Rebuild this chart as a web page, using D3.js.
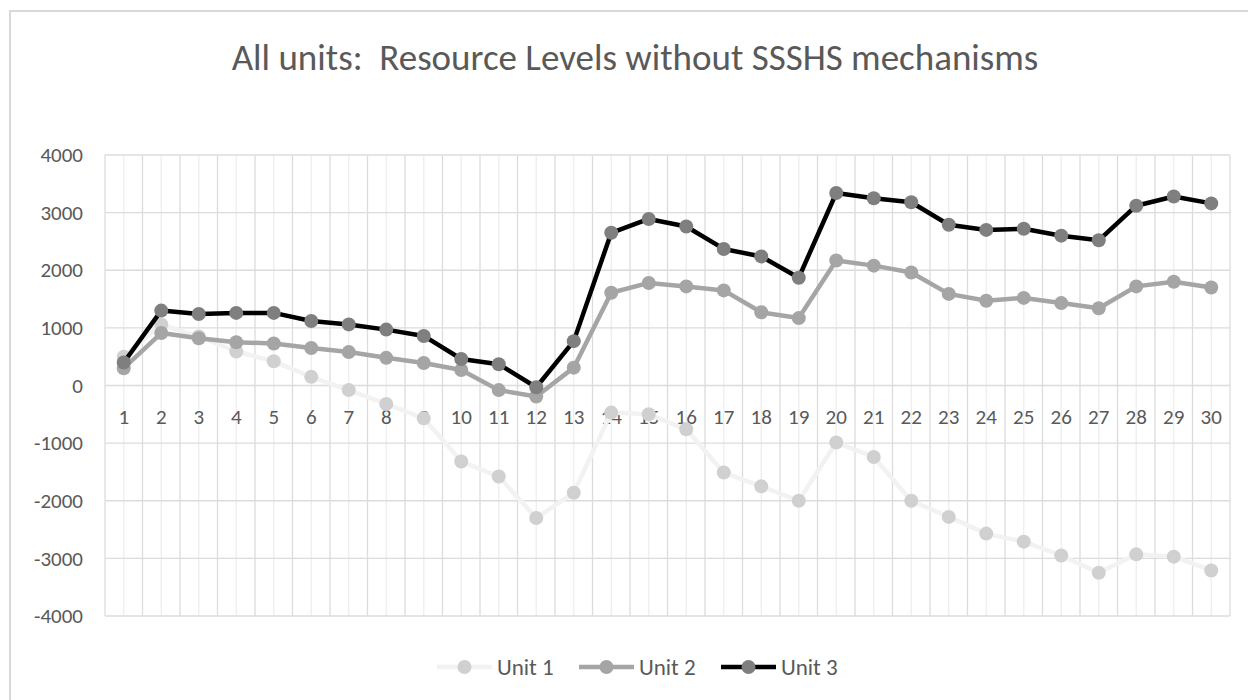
<!DOCTYPE html>
<html>
<head>
<meta charset="utf-8">
<script src="https://cdn.jsdelivr.net/npm/d3@7/dist/d3.min.js"></script>
<style>
  html, body { margin: 0; padding: 0; background: #fff; }
  svg { display: block; font-family: Calibri, Carlito, Lato, "Open Sans", sans-serif; }
  svg text { font-family: Calibri, Carlito, Lato, "Open Sans", sans-serif; }
</style>
</head>
<body>
<div id="chart"></div>
<script>
const title = 'All units:  Resource Levels without SSSHS mechanisms';
const periods = d3.range(1, 31);
const yTicks = [-4000, -3000, -2000, -1000, 0, 1000, 2000, 3000, 4000];

const unit1 = [500, 1060, 850, 590, 420, 150, -80, -320, -570, -1320, -1580, -2300, -1860, -470, -500, -760,
  -1510, -1750, -2000, -990, -1240, -2000, -2280, -2570, -2710, -2950, -3250, -2930, -2970, -3210];
const unit2 = [300, 910, 820, 750, 730, 650, 580, 480, 390, 270, -80, -190, 310, 1610, 1780, 1720,
  1650, 1270, 1170, 2170, 2080, 1960, 1590, 1470, 1520, 1430, 1340, 1720, 1800, 1700];
const unit3 = [400, 1300, 1240, 1260, 1260, 1120, 1060, 970, 860, 460, 370, -30, 770, 2650, 2890, 2760,
  2370, 2240, 1870, 3340, 3250, 3180, 2790, 2700, 2720, 2600, 2520, 3120, 3280, 3160];

const series = [
  { name: 'Unit 1', values: unit1, line: '#f2f2f2', marker: '#d0d0d0' },
  { name: 'Unit 2', values: unit2, line: '#a5a5a5', marker: '#a5a5a5' },
  { name: 'Unit 3', values: unit3, line: '#000000', marker: '#7f7f7f' }
];

const W = 1248, H = 700;
const plot = { left: 105, right: 1230, top: 155, bottom: 616 };
const textColor = '#595959';

const svg = d3.select('#chart').append('svg')
  .attr('width', W)
  .attr('height', H);

// chart frame (runs off the bottom/right of the picture)
svg.append('rect')
  .attr('x', 10).attr('y', 11)
  .attr('width', W + 20).attr('height', H + 20)
  .attr('fill', '#fff')
  .attr('stroke', '#d9d9d9')
  .attr('stroke-width', 2);

const x = d3.scaleBand()
  .domain(periods)
  .range([plot.left, plot.right]);

const y = d3.scaleLinear()
  .domain([-4000, 4000])
  .range([plot.bottom, plot.top]);

// minor vertical grid at category centres
svg.append('g')
  .selectAll('line')
  .data(periods)
  .join('line')
  .attr('x1', d => x(d) + x.bandwidth() / 2)
  .attr('x2', d => x(d) + x.bandwidth() / 2)
  .attr('y1', plot.top)
  .attr('y2', plot.bottom)
  .attr('stroke', '#eeeeee')
  .attr('stroke-width', 1.3);

// major vertical grid at category boundaries
svg.append('g')
  .selectAll('line')
  .data(periods.concat([31]))
  .join('line')
  .attr('x1', d => d === 31 ? plot.right : x(d))
  .attr('x2', d => d === 31 ? plot.right : x(d))
  .attr('y1', plot.top)
  .attr('y2', plot.bottom)
  .attr('stroke', '#dcdcdc')
  .attr('stroke-width', 1.3);

// horizontal grid
svg.append('g')
  .selectAll('line')
  .data(yTicks)
  .join('line')
  .attr('x1', plot.left)
  .attr('x2', plot.right)
  .attr('y1', d => y(d))
  .attr('y2', d => y(d))
  .attr('stroke', '#dcdcdc')
  .attr('stroke-width', 1.3);

// y axis labels
const yAxis = svg.append('g')
  .attr('transform', `translate(${plot.left - 22},0)`)
  .call(d3.axisLeft(y).tickValues(yTicks).tickSize(0).tickPadding(0).tickFormat(d => String(d)));
yAxis.attr('font-family', null).attr('font-size', null);
yAxis.select('.domain').remove();
yAxis.selectAll('text')
  .attr('fill', textColor)
  .style('font-size', '21px');

// x axis labels, sitting just under the zero line
const xAxis = svg.append('g')
  .attr('transform', `translate(0,${y(0)})`)
  .call(d3.axisBottom(x).tickSize(0).tickPadding(23));
xAxis.attr('font-family', null).attr('font-size', null);
xAxis.select('.domain').remove();
xAxis.selectAll('text')
  .attr('fill', textColor)
  .attr('dy', '0.35em')
  .attr('y', 31)
  .style('font-size', '21px');

const lineGen = d3.line()
  .x((d, i) => x(periods[i]) + x.bandwidth() / 2)
  .y(d => y(d));

const seriesG = svg.append('g')
  .selectAll('g')
  .data(series)
  .join('g');

seriesG.append('path')
  .attr('d', d => lineGen(d.values))
  .attr('fill', 'none')
  .attr('stroke', d => d.line)
  .attr('stroke-width', 4.5)
  .attr('stroke-linejoin', 'round');

seriesG.each(function (s) {
  d3.select(this).selectAll('circle')
    .data(s.values)
    .join('circle')
    .attr('cx', (d, i) => x(periods[i]) + x.bandwidth() / 2)
    .attr('cy', d => y(d))
    .attr('r', 7)
    .attr('fill', s.marker);
});

// title
svg.append('text')
  .attr('x', 635)
  .attr('y', 70)
  .attr('text-anchor', 'middle')
  .attr('fill', textColor)
  .style('font-size', '37px')
  .style('white-space', 'pre')
  .text(title);

// legend
const legend = svg.append('g')
  .attr('transform', 'translate(437,667)');

const legendItems = legend.selectAll('g')
  .data(series)
  .join('g')
  .attr('transform', (d, i) => `translate(${i * 142},0)`);

legendItems.append('line')
  .attr('x1', 0).attr('x2', 55)
  .attr('stroke', d => d.line)
  .attr('stroke-width', 4.5);

legendItems.append('circle')
  .attr('cx', 27.5)
  .attr('r', 7)
  .attr('fill', d => d.marker);

legendItems.append('text')
  .attr('x', 60)
  .attr('dy', '0.35em')
  .attr('fill', textColor)
  .style('font-size', '23px')
  .text(d => d.name);
</script>
</body>
</html>
